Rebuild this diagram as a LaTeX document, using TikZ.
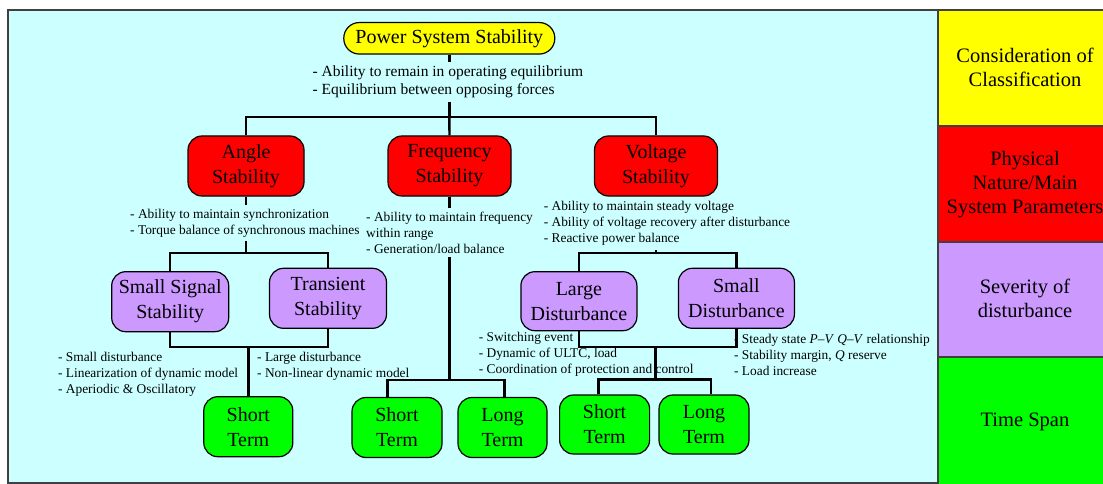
\documentclass[tikz,border=0pt]{standalone}
\usepackage{fontspec}
\setmainfont{Liberation Serif}
\usetikzlibrary{calc}
\definecolor{bgc}{HTML}{CCFFFF}
\definecolor{yel}{HTML}{FFFF00}
\definecolor{redc}{HTML}{FF0000}
\definecolor{pur}{HTML}{CC99FF}
\definecolor{grn}{HTML}{00FF00}
\definecolor{edge}{HTML}{404040}
\tikzset{
  box/.style={draw=black, line width=1.2pt, rounded corners=14pt, minimum height=60pt,
    align=center, font=\fontsize{20}{25}\selectfont, inner sep=0pt},
  conn/.style={line width=2.4pt, black},
  bul/.style={font=\fontsize{13.4}{16}\selectfont, align=left, inner sep=0pt, anchor=west},
  bulfill/.style={bul, fill=bgc, inner ysep=4pt, inner xsep=1pt},
  paneltext/.style={align=center, font=\fontsize{20.5}{24}\selectfont, inner sep=0pt}
}
\begin{document}
\begin{tikzpicture}[x=1pt,y=-1pt]
\useasboundingbox (0,0) rectangle (1103,484);
% background
\filldraw[fill=bgc, draw=edge, line width=1.4pt] (8,10) rectangle (938,483);
% right panel
\filldraw[fill=yel, draw=edge, line width=1.2pt] (938,10) rectangle (1112,126);
\filldraw[fill=redc, draw=edge, line width=1.2pt] (938,126) rectangle (1112,242);
\filldraw[fill=pur, draw=edge, line width=1.2pt] (938,242) rectangle (1112,357);
\filldraw[fill=grn, draw=edge, line width=1.2pt] (938,357) rectangle (1112,490);
\node[paneltext] (p1) at (1025,67.5) {Consideration of\\Classification};
\node[paneltext] (p2) at (1025,184.5) {Physical\\Nature/Main\\System Parameters};
\node[paneltext] (p3) at (1025,298.7) {Severity of\\disturbance};
\node[paneltext] (p4) at (1025,421.7) {Time Span};

% boxes
\node[box, fill=yel, rounded corners=15.5pt, minimum width=211pt, minimum height=31.5pt] (pss) at (449.3,38.3) {Power System Stability};
\node[box, fill=redc, minimum width=116pt] (ang) at (246,166) {Angle\\Stability};
\node[box, fill=redc, minimum width=123pt] (fre) at (449.5,166) {Frequency\\Stability};
\node[box, fill=redc, minimum width=123pt] (vol) at (656,166) {Voltage\\Stability};
\node[box, fill=pur, minimum width=117pt] (sss) at (170.2,301.7) {Small Signal\\Stability};
\node[box, fill=pur, minimum width=117pt] (tra) at (328,298.3) {Transient\\Stability};
\node[box, fill=pur, minimum width=116pt, minimum height=59pt] (lgd) at (578.9,301.2) {Large\\Disturbance};
\node[box, fill=pur, minimum width=116pt] (smd) at (736.4,298.3) {Small\\Disturbance};
\node[box, fill=grn, minimum width=89pt] (st1) at (248.3,426.7) {Short\\Term};
\node[box, fill=grn, minimum width=90pt] (st2) at (397,427.5) {Short\\Term};
\node[box, fill=grn, minimum width=89pt] (lt2) at (502.5,427.5) {Long\\Term};
\node[box, fill=grn, minimum width=90pt, minimum height=59pt] (st3) at (604.6,424.5) {Short\\Term};
\node[box, fill=grn, minimum width=90pt, minimum height=59pt] (lt3) at (704,424.5) {Long\\Term};

% lower bullet texts (lines drawn over them)
\node[bul] (bsss) at (57.9,374) {- Small disturbance\\- Linearization of dynamic model\\- Aperiodic \& Oscillatory};
\node[bul] (btra) at (257,366.3) {- Large disturbance\\- Non-linear dynamic model};
\node[bul] (blgd) at (478.6,354.5) {- Switching event\\- Dynamic of ULTC, load\\- Coordination of protection and control};
\node[bul] (bsmd) at (733.9,354.5) {- Steady state \textit{P}–\textit{V} \textit{Q}–\textit{V} relationship\\- Stability margin, \textit{Q} reserve\\- Load increase};

% connectors
\coordinate (j0) at (449.3,117);
\draw[conn] (pss.south) -- (j0);
\draw[conn] (ang.north) |- (j0) -| (vol.north);
\draw[conn] (j0) -- (fre.north);

\coordinate (ja) at (246,252.7);
\draw[conn] (ang.south) -- (ja);
\draw[conn] (sss.north) |- (ja) -| (tra.north);
\coordinate (ja2) at (248.3,346.7);
\draw[conn] (sss.south) |- (ja2) -| (tra.south);
\draw[conn] (ja2) -- (st1.north);

\coordinate (jf) at (449.5,380);
\draw[conn] (fre.south) -- (jf);
\draw[conn] ($(st2.north)+(-9.5,0)$) |- (jf) -| ($(lt2.north)+(1.8,0)$);

\coordinate (jv) at (656,252.7);
\draw[conn] (vol.south) -- (jv);
\draw[conn] (lgd.north) |- (jv) -| (smd.north);
\coordinate (jv2) at (655.6,346.7);
\draw[conn] (lgd.south) |- (jv2) -| (smd.south);
\coordinate (jv3) at (655.6,379.3);
\draw[conn] (jv2) -- (jv3);
\draw[conn] ($(st3.north)+(-6,0)$) |- (jv3) -| ($(lt3.north)+(7,0)$);

% upper bullet texts (cover lines)
\node[bulfill, font=\fontsize{15.5}{18}\selectfont] (bpss) at (311.5,82) {- Ability to remain in operating equilibrium\\- Equilibrium between opposing forces};
\node[bulfill] (bang) at (129,223) {- Ability to maintain synchronization\\- Torque balance of synchronous machines};
\node[bulfill] (bfre) at (365,232.5) {- Ability to maintain frequency\\within range\\- Generation/load balance};
\node[bulfill] (bvol) at (542.6,223.5) {- Ability to maintain steady voltage\\- Ability of voltage recovery after disturbance\\- Reactive power balance};
\end{tikzpicture}
\end{document}
